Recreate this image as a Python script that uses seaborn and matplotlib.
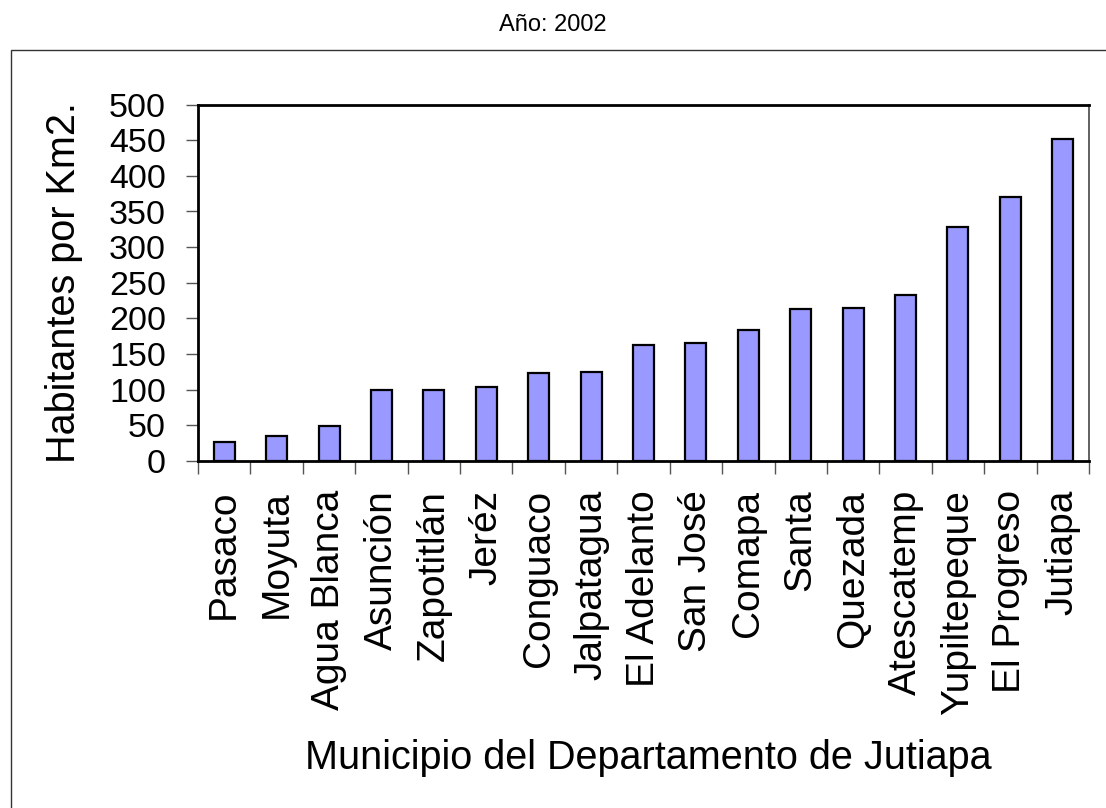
import numpy as np
import matplotlib
matplotlib.use("Agg")
import matplotlib.pyplot as plt
from matplotlib.patches import Rectangle
import seaborn as sns

municipios = ['Pasaco', 'Moyuta', 'Agua Blanca', 'Asunción', 'Zapotitlán', 'Jeréz',
              'Conguaco', 'Jalpatagua', 'El Adelanto', 'San José', 'Comapa', 'Santa',
              'Quezada', 'Atescatemp', 'Yupiltepeque', 'El Progreso', 'Jutiapa']
densidad = [26, 34, 49, 99, 100, 104, 123, 124, 162, 166, 183, 213, 214, 233, 328, 370, 452]
yticks = list(range(0, 501, 50))

sns.set_style("white")
plt.rcParams['font.family'] = ['Liberation Sans', 'DejaVu Sans']
plt.rcParams['text.color'] = 'black'
plt.rcParams['axes.labelcolor'] = 'black'

fig = plt.figure(figsize=(11.06, 8.08), dpi=100)
ax = fig.add_axes([198 / 1106, 1 - 460.7 / 808, 891 / 1106, 356 / 808])

sns.barplot(x=municipios, y=densidad, color='#9999FF', saturation=1,
            edgecolor='black', linewidth=1.6, width=0.4, ax=ax)

ax.set_xlim(-0.5, len(municipios) - 0.5)
ax.set_ylim(0, 500)
ax.set_yticks(yticks)
ax.set_yticklabels([str(v) for v in yticks], fontsize=24.5)

# ticks between categories, labels at the centres
ax.set_xticks(np.arange(-0.5, len(municipios), 1))
ax.set_xticklabels([''] * (len(municipios) + 1))
ax.set_xticks(np.arange(len(municipios)), minor=True)
ax.set_xticklabels(municipios, minor=True, rotation=90, fontsize=28)
ax.tick_params(axis='x', which='major', length=9, width=1, color='#555555', bottom=True)
ax.tick_params(axis='x', which='minor', length=0, pad=21, bottom=True, labelcolor='black')
ax.tick_params(axis='y', length=9, width=1, color='#555555', pad=14, left=True,
               labelcolor='black')

for side in ['left', 'bottom', 'top']:
    ax.spines[side].set_linewidth(2)
    ax.spines[side].set_color('black')
ax.spines['right'].set_linewidth(1.3)
ax.spines['right'].set_color('#555555')

ax.set_xlabel('Municipio del Departamento de Jutiapa', fontsize=28.5)
ax.set_ylabel('Habitantes por Km2.', fontsize=28.5)
ax.xaxis.set_label_coords(0.505, -0.835)
ax.xaxis.label.set_va('center')
ax.yaxis.set_label_coords(-0.150, 0.5)
ax.yaxis.label.set_va('center')

fig.text(0.4995, 1 - 25 / 808, 'Año: 2002', ha='center', va='center', fontsize=17)

fig.add_artist(Rectangle((11 / 1106, -0.05), 1.2, 1.05 - 50.5 / 808,
                         transform=fig.transFigure, fill=False,
                         edgecolor='#333333', linewidth=1))

fig.savefig('out.png', dpi=100)
